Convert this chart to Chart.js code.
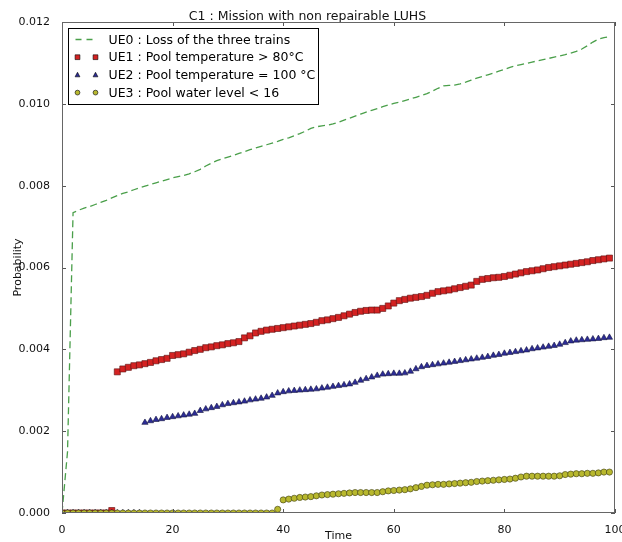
<!DOCTYPE html>
<html>
<head>
<meta charset="utf-8">
<script src="https://cdn.jsdelivr.net/npm/chart.js@4/dist/chart.umd.min.js"></script>
<style>
  html, body { margin: 0; padding: 0; background: #fff; }
  #wrap { width: 622px; height: 542px; }
</style>
</head>
<body>
<div id="wrap"><canvas id="chartCanvas" width="622" height="542"></canvas></div>
<script>
const time = [0,1,2,3,4,5,6,7,8,9,10,11,12,13,14,15,16,17,18,19,20,21,22,23,24,25,26,27,28,29,
  30,31,32,33,34,35,36,37,38,39,40,41,42,43,44,45,46,47,48,49,50,51,52,53,54,55,56,57,58,59,
  60,61,62,63,64,65,66,67,68,69,70,71,72,73,74,75,76,77,78,79,80,81,82,83,84,85,86,87,88,89,
  90,91,92,93,94,95,96,97,98,99];

const ue0 = [0,0.0015,0.00734,0.00740,0.00745,0.00749,0.00754,0.00759,0.00764,0.00770,
  0.00776,0.00781,0.00785,0.00790,0.00795,0.00799,0.00803,0.00807,0.00811,0.00815,
  0.00819,0.00822,0.00825,0.00829,0.00834,0.00840,0.00848,0.00855,0.00861,0.00866,
  0.00870,0.00874,0.00879,0.00883,0.00888,0.00892,0.00896,0.00900,0.00904,0.00908,
  0.00913,0.00917,0.00922,0.00927,0.00933,0.00940,0.00944,0.00946,0.00948,0.00951,
  0.00955,0.00960,0.00965,0.00970,0.00975,0.00980,0.00984,0.00988,0.00993,0.00997,
  0.01001,0.01004,0.01008,0.01012,0.01016,0.01020,0.01025,0.01031,0.01038,0.01044,
  0.01045,0.01046,0.01049,0.01053,0.01058,0.01063,0.01067,0.01071,0.01075,0.01080,
  0.01084,0.01089,0.01093,0.01096,0.01099,0.01102,0.01105,0.01108,0.01111,0.01114,
  0.01117,0.01120,0.01124,0.01128,0.01134,0.01142,0.01151,0.01158,0.01162,0.01164];

const ue1 = [0,0,0,0,0,0,0,0,0,0.00006,
  0.00345,0.00352,0.00356,0.00360,0.00362,0.00365,0.00368,0.00372,0.00375,0.00378,
  0.00385,0.00387,0.00389,0.00393,0.00397,0.00400,0.00404,0.00406,0.00409,0.00411,
  0.00414,0.00416,0.00419,0.00428,0.00433,0.00440,0.00444,0.00447,0.00449,0.00451,
  0.00453,0.00455,0.00457,0.00459,0.00461,0.00463,0.00466,0.00470,0.00472,0.00475,
  0.00478,0.00482,0.00486,0.00490,0.00493,0.00495,0.00496,0.00496,0.00500,0.00506,
  0.00513,0.00519,0.00522,0.00525,0.00527,0.00529,0.00532,0.00537,0.00541,0.00543,
  0.00545,0.00548,0.00551,0.00554,0.00557,0.00566,0.00571,0.00573,0.00575,0.00576,
  0.00578,0.00581,0.00584,0.00587,0.00590,0.00592,0.00594,0.00597,0.00600,0.00602,
  0.00604,0.00606,0.00608,0.00610,0.00612,0.00614,0.00617,0.00619,0.00621,0.00623];

const ue2 = [0,0,0,0,0,0,0,0,0,0,0,0,0,0,0,
  0.00221,0.00225,0.00228,0.00230,0.00233,
  0.00235,0.00237,0.00239,0.00241,0.00243,0.00250,0.00254,0.00257,0.00260,0.00264,
  0.00267,0.00269,0.00271,0.00273,0.00276,0.00278,0.00280,0.00283,0.00287,0.00293,
  0.00296,0.00298,0.00299,0.00300,0.00301,0.00302,0.00303,0.00305,0.00307,0.00309,
  0.00311,0.00313,0.00315,0.00319,0.00324,0.00328,0.00332,0.00336,0.00339,0.00340,
  0.00341,0.00341,0.00342,0.00346,0.00352,0.00357,0.00360,0.00362,0.00364,0.00366,
  0.00368,0.00370,0.00372,0.00374,0.00376,0.00378,0.00380,0.00382,0.00385,0.00387,
  0.00390,0.00392,0.00394,0.00396,0.00398,0.00401,0.00403,0.00405,0.00407,0.00409,
  0.00412,0.00416,0.00420,0.00422,0.00423,0.00424,0.00425,0.00426,0.00428,0.00429];

const ue3 = [0,0,0,0,0,0,0,0,0,0,0,0,0,0,0,0,0,0,0,0,
  0,0,0,0,0,0,0,0,0,0,0,0,0,0,0,0,0,0,0,0.00009,
  0.00032,0.00034,0.00036,0.00038,0.00039,0.00040,0.00042,0.00044,0.00045,0.00046,
  0.00047,0.00048,0.00049,0.00050,0.00050,0.00050,0.00050,0.00050,0.00052,0.00054,
  0.00055,0.00056,0.00057,0.00059,0.00062,0.00065,0.00068,0.00069,0.00070,0.00070,
  0.00071,0.00072,0.00073,0.00074,0.00075,0.00077,0.00078,0.00079,0.00080,0.00081,
  0.00082,0.00083,0.00085,0.00088,0.00090,0.00090,0.00090,0.00090,0.00090,0.00090,
  0.00091,0.00094,0.00095,0.00096,0.00096,0.00097,0.00097,0.00098,0.00100,0.00100];

const seriesNames = [
  "UE0 : Loss of the three trains",
  "UE1 : Pool temperature > 80°C",
  "UE2 : Pool temperature = 100 °C",
  "UE3 : Pool water level < 16"
];
const xTicks = [0, 20, 40, 60, 80, 100];
const yTicks = [0, 0.002, 0.004, 0.006, 0.008, 0.010, 0.012];

const FONT = "'DejaVu Sans', sans-serif";

function pts(values) {
  return values.map((v, i) => ({ x: time[i], y: v }));
}

function marker(ctx, style, x, y, r, fill) {
  ctx.save();
  ctx.fillStyle = fill;
  ctx.strokeStyle = "#000";
  ctx.lineWidth = 0.6;
  ctx.beginPath();
  if (style === "rect") {
    ctx.rect(x - r, y - r, 2 * r, 2 * r);
  } else if (style === "triangle") {
    ctx.moveTo(x, y - r * 1.1);
    ctx.lineTo(x + r, y + r * 0.8);
    ctx.lineTo(x - r, y + r * 0.8);
    ctx.closePath();
  } else {
    ctx.arc(x, y, r, 0, Math.PI * 2);
  }
  ctx.fill();
  ctx.stroke();
  ctx.restore();
}

const frameAndLegend = {
  id: "frameAndLegend",
  afterDraw(chart) {
    const ctx = chart.ctx;
    const a = chart.chartArea;
    const xs = chart.scales.x, ys = chart.scales.y;
    ctx.save();
    // inward ticks on all four sides
    ctx.strokeStyle = "#555";
    ctx.lineWidth = 1;
    ctx.beginPath();
    xTicks.forEach(t => {
      const px = Math.round(xs.getPixelForValue(t)) + 0.5;
      ctx.moveTo(px, a.bottom); ctx.lineTo(px, a.bottom - 4);
      ctx.moveTo(px, a.top); ctx.lineTo(px, a.top + 4);
    });
    yTicks.forEach(t => {
      const py = Math.round(ys.getPixelForValue(t)) + 0.5;
      ctx.moveTo(a.left, py); ctx.lineTo(a.left + 4, py);
      ctx.moveTo(a.right, py); ctx.lineTo(a.right - 4, py);
    });
    ctx.stroke();
    // frame
    ctx.strokeStyle = "#666";
    ctx.strokeRect(Math.round(a.left) + 0.5, Math.round(a.top) + 0.5,
      Math.round(a.right - a.left) - 1, Math.round(a.bottom - a.top) - 1);

    // legend
    const lx = a.left + 6.5, ly = a.top + 6.5, lw = 250, lh = 76;
    ctx.fillStyle = "#fff";
    ctx.fillRect(lx, ly, lw, lh);
    ctx.strokeStyle = "#000";
    ctx.lineWidth = 1;
    ctx.strokeRect(lx, ly, lw, lh);
    ctx.font = "12.5px " + FONT;
    ctx.textBaseline = "middle";
    chart.data.datasets.forEach((ds, i) => {
      const cy = ly + 11 + i * 17.7;
      if (i === 0) {
        ctx.save();
        ctx.strokeStyle = ds.borderColor;
        ctx.lineWidth = 1.3;
        ctx.setLineDash([6, 5]);
        ctx.beginPath();
        ctx.moveTo(lx + 7, cy); ctx.lineTo(lx + 25, cy);
        ctx.stroke();
        ctx.restore();
      } else {
        marker(ctx, ds.pointStyle, lx + 9, cy, 2.4, ds.backgroundColor);
        marker(ctx, ds.pointStyle, lx + 27, cy, 2.4, ds.backgroundColor);
      }
      ctx.fillStyle = "#000";
      ctx.fillText(seriesNames[i], lx + 40, cy + 1);
    });
    ctx.restore();
  }
};

const ctx = document.getElementById("chartCanvas").getContext("2d");
const chart = new Chart(ctx, {
  type: "line",
  data: {
    datasets: [
      {
        label: seriesNames[0],
        data: pts(ue0),
        borderColor: "#4a9f4a",
        backgroundColor: "#4a9f4a",
        borderWidth: 1.3,
        borderDash: [7, 4],
        pointRadius: 0,
        showLine: true,
        order: 3,
      },
      {
        label: seriesNames[1],
        data: pts(ue1),
        pointStyle: "rect",
        backgroundColor: "#d42222",
        borderColor: "#5a1010",
        pointBorderWidth: 0.6,
        pointRadius: 4.3,
        showLine: false,
        order: 2,
      },
      {
        label: seriesNames[2],
        data: pts(ue2),
        pointStyle: "triangle",
        backgroundColor: "#2c2c96",
        borderColor: "#151540",
        pointBorderWidth: 0.6,
        pointRadius: 3.6,
        showLine: false,
        order: 1,
      },
      {
        label: seriesNames[3],
        data: pts(ue3),
        pointStyle: "circle",
        backgroundColor: "#b8b82e",
        borderColor: "#3a3a10",
        pointBorderWidth: 0.6,
        pointRadius: 3.1,
        showLine: false,
        order: 0,
      },
    ],
  },
  options: {
    animation: false,
    responsive: false,
    events: [],
    layout: { padding: { left: 0, right: 7, top: 0, bottom: 0 } },
    plugins: {
      legend: { display: false },
      tooltip: { enabled: false },
      title: {
        display: true,
        text: "C1 : Mission with non repairable LUHS",
        color: "#111",
        font: { family: FONT, size: 12.5, weight: "normal" },
        padding: { top: 9, bottom: -2 },
      },
    },
    scales: {
      x: {
        type: "linear",
        min: 0,
        max: 100,
        grid: { display: false },
        border: { display: false },
        ticks: {
          stepSize: 20,
          padding: 3,
          color: "#111",
          font: { family: FONT, size: 11 },
          maxRotation: 0,
        },
        title: {
          display: true,
          text: "Time",
          color: "#111",
          font: { family: FONT, size: 11 },
          padding: { top: 0, bottom: -1 },
        },
        afterFit(s) { s.height = 29; s.paddingLeft = 0; s.paddingRight = 0; },
      },
      y: {
        min: 0,
        max: 0.012,
        grid: { display: false },
        border: { display: false },
        ticks: {
          stepSize: 0.002,
          padding: 4,
          color: "#111",
          font: { family: FONT, size: 11 },
          callback: v => v.toFixed(3),
        },
        title: {
          display: true,
          text: "Probability",
          color: "#111",
          font: { family: FONT, size: 11 },
          padding: { top: 12, bottom: 0 },
        },
        afterFit(s) { s.width = 62; s.paddingTop = 0; s.paddingBottom = 0; },
      },
    },
  },
  plugins: [frameAndLegend],
});
</script>
</body>
</html>
